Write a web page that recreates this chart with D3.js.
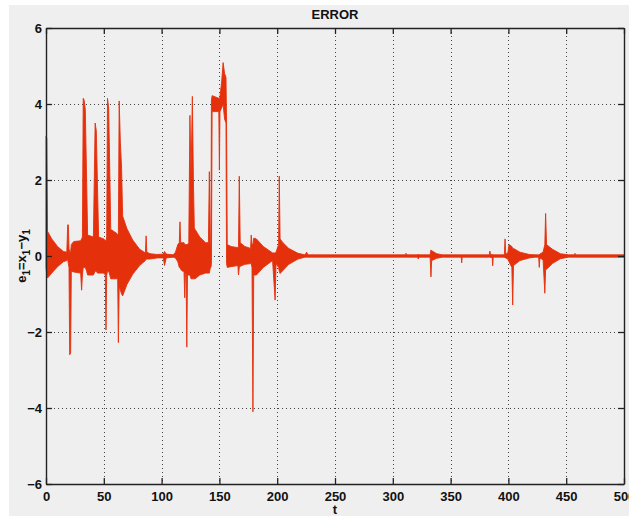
<!DOCTYPE html>
<html>
<head>
<meta charset="utf-8">
<script src="https://cdn.jsdelivr.net/npm/d3@7"></script>
<style>
  body { margin: 0; background: #ffffff; }
  svg { display: block; }
  text { font-family: "Liberation Sans", Arial, Helvetica, sans-serif; fill: #111; }
</style>
</head>
<body>
<svg id="chart" width="629" height="516"></svg>
<script>
// Synchronisation error e1 = x1 - y1: upper and lower envelope of the
// fast oscillation, given at knot times t.
const time = [
  0, 0.7, 1.3, 5, 10, 15, 18,
  18.8, 19.3, 19.9, 20.5, 21.3, 21.9,
  24, 30, 30.8, 31.5, 32.2, 33, 34, 35.2, 36,
  41, 42.5, 43.5, 44.5, 45.5,
  50, 51.3, 51.9, 52.5, 53.2, 54.2, 55.2, 56,
  61, 62, 62.6, 63.3, 64.3, 65.4, 66.3,
  70, 75, 81, 86, 86.6, 87.2, 90, 96, 101.5, 102.5, 104,
  110, 112, 114, 115.3, 115.9, 116.5, 118, 119.4, 120, 120.6, 121.2, 121.8, 122.4, 123.5, 124.5, 125.5, 126.6, 127.5, 128.3, 129,
  133, 138, 140.5, 141.3, 142.2, 142.7, 143.1, 143.7, 149.5, 150, 150.5, 152, 153.2, 154.5, 155.7, 156.2, 156.8,
  160, 166, 166.5, 167.2, 168, 172, 177, 177.5, 178.2, 179, 179.7,
  182, 188, 196, 198.2, 199, 201.2, 201.8, 202.5, 205, 210, 218, 224, 225.5, 226.5,
  311, 311.4, 312, 321.5, 322, 322.5, 332.3, 333, 333.6, 338, 343, 359.2, 359.6, 360,
  383.5, 384, 384.5, 386, 386.4, 386.9, 396.5, 397.1, 397.7, 399.5, 400.5, 403, 403.7, 404.4,
  410, 418, 423, 426.2, 426.7, 427.2, 430, 431.5, 432.2, 433, 438, 445, 452, 457.2, 457.6, 458, 500
];
const upper = [
  3.15, 3.1, 0.65, 0.45, 0.25, 0.12, 0.1,
  0.82, 0.82, 0.2, 0.1, 0.1, 0.3,
  0.38, 0.4, 0.45, 0.5, 4.15, 4.1, 3.85, 1.9, 0.55,
  0.5, 3.5, 3.3, 1.9, 0.5,
  0.45, 0.4, 0.4, 0.5, 4.15, 3.9, 2.2, 0.7,
  0.6, 0.55, 0.6, 4.08, 3.0, 2.3, 1.05,
  0.72, 0.42, 0.18, 0.08, 0.53, 0.1, 0.06, 0.04, 0.05, 0.12, 0.05,
  0.03, 0.1, 0.3, 0.35, 0.9, 0.35, 0.35, 0.35, 0.3, 0.3, 0.3, 0.3, 0.3, 0.35, 3.7, 2.1, 4.2, 2.0, 0.75, 0.7,
  0.5, 0.35, 0.35, 2.22, 0.3, 0.3, 4.1, 4.22, 4.15, 4.1, 4.2, 4.6, 5.09, 4.8, 4.7, 3.5, 0.3,
  0.25, 0.22, 0.2, 2.1, 0.35, 0.25, 0.2, 0.55, 0.3, 0.3, 0.47,
  0.45, 0.25, 0.08, 0.08, 0.1, 0.3, 2.1, 0.45, 0.35, 0.2, 0.07, 0.03, 0.1, 0.03,
  0.03, 0.07, 0.03, 0.03, 0.05, 0.03, 0.03, 0.16, 0.14, 0.06, 0.03, 0.03, 0.03, 0.03,
  0.03, 0.13, 0.04, 0.04, 0.04, 0.03, 0.03, 0.45, 0.05, 0.08, 0.3, 0.25, 0.2, 0.2,
  0.1, 0.04, 0.03, 0.03, 0.03, 0.05, 0.1, 0.3, 1.12, 0.3, 0.18, 0.06, 0.03, 0.03, 0.07, 0.03, 0.03
];
const lower = [
  -0.3, -0.5, -0.58, -0.45, -0.28, -0.15, -0.12,
  -0.1, -0.2, -0.3, -2.6, -2.55, -0.4,
  -0.42, -0.45, -0.9, -0.5, -0.3, -0.3, -0.3, -0.4, -0.5,
  -0.5, -0.4, -0.4, -0.45, -0.45,
  -0.45, -0.5, -1.95, -0.5, -0.4, -0.4, -0.5, -0.6,
  -0.6, -0.6, -2.28, -0.8, -0.9, -1.0, -1.05,
  -0.75, -0.48, -0.25, -0.12, -0.08, -0.08, -0.08, -0.05, -0.05, -0.25, -0.05,
  -0.03, -0.05, -0.15, -0.3, -0.3, -0.35, -0.4, -0.4, -1.1, -0.45, -0.45, -2.4, -0.5, -0.5, -0.5, -0.6, -0.6, -0.6, -0.6, -0.6,
  -0.5, -0.45, -0.45, -0.45, -0.3, -0.3, -0.2, 3.8, 3.8, 2.26, 3.8, 3.9, 4.0, 3.6, 3.5, -0.2, -0.3,
  -0.28, -0.25, -0.5, -0.3, -0.27, -0.22, -0.2, -0.2, -0.3, -4.1, -0.5,
  -0.5, -0.3, -0.12, -1.16, -0.2, -0.3, -0.4, -0.46, -0.38, -0.22, -0.08, -0.03, -0.03, -0.03,
  -0.03, -0.03, -0.03, -0.03, -0.08, -0.03, -0.03, -0.55, -0.12, -0.06, -0.03, -0.03, -0.18, -0.03,
  -0.03, -0.03, -0.04, -0.04, -0.26, -0.03, -0.03, -0.05, -0.05, -0.08, -0.15, -0.3, -1.29, -0.25,
  -0.12, -0.05, -0.03, -0.03, -0.3, -0.05, -0.1, -0.98, -0.35, -0.35, -0.2, -0.07, -0.03, -0.03, -0.03, -0.03, -0.03
];

const xTicks = [0, 50, 100, 150, 200, 250, 300, 350, 400, 450, 500];
const yTicks = [-6, -4, -2, 0, 2, 4, 6];
const titleText = "ERROR";
const xLabel = "t";

const svg = d3.select("#chart");
const W = 629, H = 516;
const m = { left: 46, right: 5, top: 28, bottom: 32 };
const x0 = m.left, x1 = W - m.right, y0 = m.top, y1 = H - m.bottom;

// figure background
svg.append("rect").attr("x", 9).attr("y", 5).attr("width", W - 9).attr("height", H - 5)
  .attr("fill", "#efefef");

const x = d3.scaleLinear().domain([0, 500]).range([x0, x1]);
const y = d3.scaleLinear().domain([-6, 6]).range([y1, y0]);

// dotted grid
const grid = svg.append("g").attr("stroke", "#444").attr("stroke-width", 1)
  .attr("stroke-dasharray", "1,3");
grid.selectAll("line.v").data(xTicks.slice(1, -1)).join("line").attr("class", "v")
  .attr("x1", d => Math.round(x(d)) + 0.5).attr("x2", d => Math.round(x(d)) + 0.5)
  .attr("y1", y0).attr("y2", y1);
grid.selectAll("line.h").data(yTicks.slice(1, -1)).join("line").attr("class", "h")
  .attr("y1", d => Math.round(y(d)) + 0.5).attr("y2", d => Math.round(y(d)) + 0.5)
  .attr("x1", x0).attr("x2", x1);

// error envelope
const pts = time.map((t, i) => ({ t, hi: upper[i], lo: lower[i] }));
const area = d3.area().x(d => x(d.t)).y0(d => y(d.lo)).y1(d => y(d.hi));
svg.append("path").datum(pts).attr("d", area)
  .attr("fill", "#e5300c").attr("stroke", "#e5300c").attr("stroke-width", 0.9)
  .attr("stroke-linejoin", "round");

// axes: ticks point inward on all four sides
const tickLen = -6;
const axB = svg.append("g").attr("transform", `translate(0,${y1})`)
  .call(d3.axisBottom(x).tickValues(xTicks).tickSizeInner(tickLen).tickSizeOuter(0).tickPadding(8));
const axT = svg.append("g").attr("transform", `translate(0,${y0})`)
  .call(d3.axisTop(x).tickValues(xTicks).tickSizeInner(tickLen).tickSizeOuter(0).tickFormat(""));
const axL = svg.append("g").attr("transform", `translate(${x0},0)`)
  .call(d3.axisLeft(y).tickValues(yTicks).tickSizeInner(tickLen).tickSizeOuter(0).tickPadding(4)
    .tickFormat(d => d < 0 ? "\u2212" + Math.abs(d) : String(d)));
const axR = svg.append("g").attr("transform", `translate(${x1},0)`)
  .call(d3.axisRight(y).tickValues(yTicks).tickSizeInner(tickLen).tickSizeOuter(0).tickFormat(""));

[axB, axT, axL, axR].forEach(g => {
  g.select(".domain").attr("stroke", "#222").attr("stroke-width", 1.4);
  g.selectAll(".tick line").attr("stroke", "#222").attr("stroke-width", 1.3);
  g.selectAll(".tick text").attr("font-size", 13).attr("font-weight", "bold")
    .attr("fill", "#111").attr("font-family", "'Liberation Sans', Arial, sans-serif");
});

// title and labels
svg.append("text").attr("x", (x0 + x1) / 2).attr("y", 18.5).attr("text-anchor", "middle")
  .attr("font-size", 13).attr("font-weight", "bold").text(titleText);
svg.append("text").attr("x", (x0 + x1) / 2).attr("y", 514).attr("text-anchor", "middle")
  .attr("font-size", 13).attr("font-weight", "bold").text(xLabel);

const yl = svg.append("text").attr("transform", `translate(26,${(y0 + y1) / 2}) rotate(-90)`)
  .attr("text-anchor", "middle").attr("font-size", 13).attr("font-weight", "bold");
[["e", false], ["1", true], ["=x", false], ["1", true], ["\u2212y", false], ["1", true]]
  .forEach(([s, sub], i, arr) => {
    const prevSub = i > 0 && arr[i - 1][1];
    yl.append("tspan").attr("dy", sub ? 4 : (prevSub ? -4 : 0))
      .attr("font-size", sub ? 10 : 13).text(s);
  });
</script>
</body>
</html>
